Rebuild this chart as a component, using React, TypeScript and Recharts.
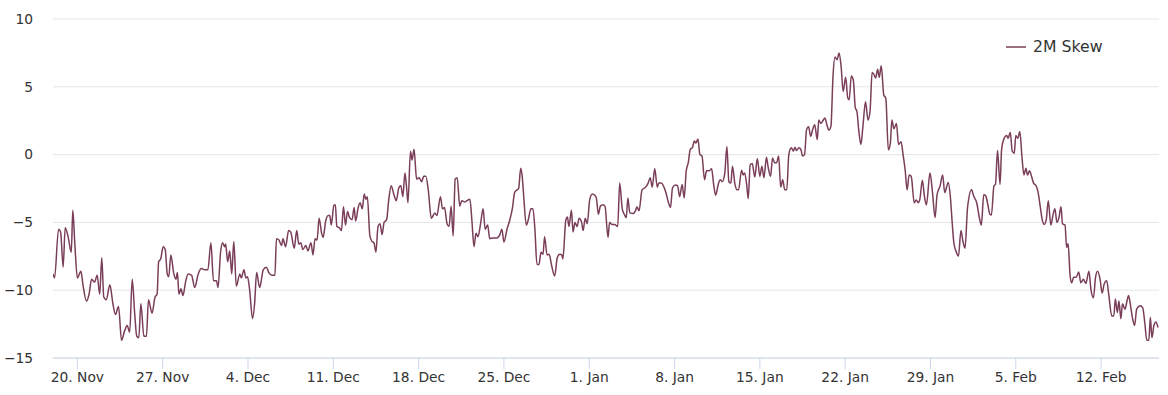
import React from 'react'
import {
  CartesianGrid,
  Line,
  LineChart,
  XAxis,
  YAxis
} from 'recharts'

// hours since 18 Nov 2023 00:00 UTC, 2M skew value
const START = Date.UTC(2023, 10, 18)
const END_HOURS = 2178

const novPoints: [number, number][] = [
  [0, -8.8], [3, -9.1], [11, -5.5], [15, -5.7], [20, -8.3], [24, -5.4], [30, -6.1], [36, -7.2], [39, -4.1], [43, -6.6],
  [48, -9.1], [55, -8.6], [59, -9.6], [66, -10.8], [71, -10.3], [76, -9.2], [82, -9.4], [87, -8.9], [92, -10.3], [96, -7.6],
  [100, -10.5], [105, -10.7], [112, -9.6], [118, -11.0], [123, -11.8], [129, -11.2], [135, -13.7], [141, -13.0], [146, -12.6],
  [151, -13.1], [156, -9.2], [161, -11.8], [165, -13.4], [169, -13.5], [173, -11.0], [179, -13.4], [184, -13.4], [188, -10.7],
  [195, -11.7], [201, -10.5], [205, -10.3], [208, -7.9], [212, -7.7], [217, -6.8], [221, -7.0], [225, -8.8], [228, -9.0],
  [232, -7.4], [238, -8.8], [242, -9.2], [245, -8.7], [248, -10.3], [252, -9.9], [256, -10.4], [261, -9.4], [266, -8.8],
  [273, -8.9], [279, -9.8], [286, -8.8], [292, -8.4], [299, -8.5], [305, -8.5], [311, -6.5], [316, -9.3], [322, -9.3],
  [325, -9.8]
]

const decPoints: [number, number][] = [
  [330, -7.2], [334, -6.5], [338, -6.8], [340, -6.6], [344, -7.9], [348, -7.1], [352, -8.8], [356, -6.4], [361, -9.7],
  [368, -8.8], [371, -9.1], [376, -8.5], [380, -9.1], [383, -9.0], [387, -9.9], [393, -12.1], [397, -11.0], [401, -8.7],
  [407, -9.8], [414, -8.5], [420, -8.3], [425, -8.7], [431, -8.9], [437, -8.9], [440, -6.2], [445, -6.3], [450, -6.7],
  [453, -6.2], [458, -6.8], [464, -5.6], [468, -5.7], [475, -6.9], [480, -5.6], [484, -6.6], [488, -6.5], [492, -7.0],
  [498, -6.7], [502, -7.1], [508, -6.5], [512, -7.4], [516, -6.2], [520, -6.3], [524, -4.7], [529, -5.8], [532, -6.1],
  [537, -4.9], [542, -4.5], [545, -4.5], [548, -5.2], [553, -3.75], [556, -3.7], [559, -5.3], [564, -5.4], [568, -5.6],
  [572, -3.85], [576, -5.2], [580, -4.2], [584, -4.65], [589, -4.8], [593, -3.9], [596, -4.9], [601, -3.9], [605, -3.55],
  [609, -4.0], [613, -2.9], [616, -3.3], [619, -3.1], [624, -6.0], [628, -6.4], [632, -6.5], [636, -7.2], [640, -5.3],
  [644, -5.1], [648, -5.9], [652, -5.0], [657, -4.8], [661, -3.4], [666, -2.3], [671, -2.9], [676, -3.4], [681, -2.45],
  [685, -2.3], [689, -3.1], [693, -1.35], [696, -2.3], [699, -3.55], [704, 0.25], [707, -0.4], [711, 0.4], [716, -1.8],
  [721, -1.7], [726, -2.0], [730, -1.6], [734, -1.6], [739, -2.6], [745, -4.7], [752, -4.3], [756, -4.5], [763, -3.1],
  [767, -4.0], [771, -3.9], [776, -5.1], [780, -5.3], [784, -3.8], [788, -6.0], [792, -1.8], [796, -1.7], [801, -3.8],
  [805, -3.4], [811, -3.5], [815, -3.4], [821, -3.3], [825, -4.9], [829, -6.8], [833, -5.8], [837, -6.05], [842, -5.1],
  [847, -4.0], [851, -5.5], [856, -5.2], [860, -6.2], [867, -6.15], [874, -6.15], [880, -5.9], [884, -5.5], [888, -6.45],
  [894, -5.5], [899, -4.9], [905, -3.9], [909, -2.8], [914, -2.6], [917, -2.5], [921, -1.0], [924, -1.6], [927, -3.1],
  [932, -5.2], [936, -4.8], [941, -4.0], [945, -4.0], [949, -5.5], [953, -8.1], [957, -8.1], [961, -7.2], [965, -7.35],
  [968, -6.05], [973, -7.4], [977, -7.35], [982, -8.2], [988, -8.95], [993, -7.6], [998, -7.35], [1002, -7.4], [1004, -7.7],
  [1010, -4.8], [1013, -4.6], [1016, -5.3], [1021, -4.1], [1024, -5.7], [1028, -5.0], [1032, -5.3], [1036, -4.7],
  [1041, -5.0], [1044, -5.6], [1048, -4.7], [1052, -5.1]
]

const janPoints: [number, number][] = [
  [1057, -3.3], [1062, -2.9], [1067, -3.0], [1070, -3.2], [1074, -4.4], [1078, -3.8], [1083, -3.7], [1087, -3.8],
  [1093, -6.1], [1096, -5.0], [1101, -5.15], [1106, -5.15], [1112, -5.3], [1116, -2.1], [1121, -4.0], [1125, -4.4],
  [1129, -4.65], [1132, -3.2], [1136, -4.3], [1142, -4.35], [1147, -4.15], [1150, -3.85], [1154, -4.15], [1160, -2.6],
  [1167, -2.4], [1172, -2.1], [1176, -1.7], [1180, -2.4], [1185, -1.05], [1190, -2.4], [1193, -2.1], [1198, -2.1],
  [1202, -2.3], [1207, -2.8], [1211, -3.4], [1216, -3.9], [1220, -2.45], [1226, -2.25], [1230, -2.3], [1234, -3.1],
  [1239, -2.2], [1243, -3.2], [1247, -1.2], [1251, -0.6], [1255, 0.4], [1259, 0.5], [1263, 1.0], [1266, 0.85],
  [1270, 1.15], [1274, 0.0], [1278, -0.1], [1283, -1.85], [1287, -1.2], [1292, -1.2], [1297, -1.05], [1301, -2.2],
  [1305, -3.0], [1310, -2.2], [1314, -1.85], [1318, -2.0], [1323, -1.35], [1327, 0.6], [1331, -2.0], [1335, -2.1],
  [1338, -0.85], [1343, -2.2], [1347, -2.6], [1350, -2.6], [1356, -1.15], [1359, -1.5], [1362, -1.35], [1366, -2.2],
  [1369, -3.25], [1373, -0.75], [1377, -0.65], [1382, -1.65], [1387, -0.3], [1392, -1.6], [1396, -0.85], [1400, -1.7],
  [1405, -0.2], [1408, -0.85], [1413, -1.6], [1417, -0.25], [1421, -0.6], [1425, -0.6], [1429, -0.1], [1433, -2.4],
  [1437, -1.85], [1441, -2.6], [1445, -2.6], [1449, 0.0], [1454, 0.5], [1458, 0.25], [1461, 0.55], [1464, 0.3],
  [1469, 0.5], [1473, 0.35], [1476, -0.1], [1480, 0.0], [1484, 1.85], [1488, 2.05], [1492, 1.35], [1496, 1.85],
  [1500, 2.2], [1505, 1.1], [1508, 2.55], [1512, 2.3], [1517, 2.55], [1520, 2.7], [1524, 2.2], [1528, 1.8], [1532, 2.1],
  [1536, 5.75], [1540, 7.2], [1544, 7.0], [1548, 7.5], [1552, 6.5], [1556, 4.65], [1561, 5.7], [1565, 4.2], [1568, 4.05],
  [1572, 5.8], [1576, 5.5], [1580, 3.45], [1583, 3.2], [1587, 1.7], [1591, 0.75], [1595, 2.1], [1600, 3.9], [1605, 2.55],
  [1609, 3.2], [1613, 6.05], [1616, 5.95], [1620, 5.65], [1624, 6.3], [1627, 5.7], [1631, 6.55], [1636, 4.4],
  [1640, 4.15], [1645, 0.35], [1649, 0.85], [1652, 2.55], [1656, 1.9], [1661, 2.3], [1665, 0.75], [1670, 0.95],
  [1674, 0.0], [1678, -1.1], [1682, -2.6], [1686, -1.5], [1690, -1.6], [1696, -3.55], [1700, -3.35], [1704, -3.55],
  [1707, -3.3], [1712, -1.9], [1716, -3.05], [1720, -3.7], [1727, -1.35], [1732, -2.8], [1737, -4.65], [1741, -2.95],
  [1747, -2.3], [1752, -1.5], [1756, -2.8], [1763, -2.05], [1767, -3.05], [1771, -5.15], [1774, -6.5], [1779, -7.2],
  [1783, -7.5], [1788, -5.6], [1792, -6.4], [1796, -6.9]
]

const febPoints: [number, number][] = [
  [1801, -3.9], [1809, -2.6], [1813, -3.05], [1819, -3.55], [1824, -4.6], [1828, -5.2], [1833, -2.95], [1837, -3.05],
  [1841, -3.7], [1845, -4.4], [1848, -4.45], [1853, -2.3], [1856, -2.2], [1860, 0.3], [1865, -2.2], [1868, 0.35],
  [1873, 1.2], [1878, 1.4], [1881, 1.2], [1885, 1.65], [1889, 0.25], [1893, 0.1], [1896, 1.4], [1900, 1.2], [1904, 1.7],
  [1908, -0.1], [1912, -1.5], [1916, -1.0], [1919, -1.5], [1923, -1.2], [1927, -1.6], [1931, -2.1], [1936, -2.3],
  [1940, -2.8], [1944, -3.8], [1948, -4.8], [1952, -5.15], [1956, -4.8], [1960, -3.4], [1965, -5.2], [1969, -4.5],
  [1973, -4.0], [1977, -5.0], [1981, -4.65], [1985, -3.85], [1988, -5.1], [1993, -5.2], [1996, -6.85], [1999, -6.55],
  [2003, -8.95], [2006, -9.45], [2010, -9.05], [2015, -9.05], [2020, -8.65], [2024, -9.45], [2029, -9.2], [2034, -9.5],
  [2040, -8.6], [2044, -9.95], [2049, -10.55], [2053, -9.05], [2057, -8.6], [2062, -9.2], [2066, -10.2], [2070, -9.55],
  [2075, -9.3], [2079, -10.3], [2085, -11.9], [2089, -11.9], [2092, -10.65], [2096, -11.65], [2099, -10.8], [2103, -12.1],
  [2106, -11.0], [2111, -11.4], [2115, -10.8], [2118, -10.4], [2122, -11.15], [2126, -12.1], [2130, -12.6], [2134, -11.4],
  [2141, -11.15], [2146, -11.3], [2150, -12.4], [2154, -13.7], [2158, -13.7], [2161, -12.0], [2164, -13.5], [2168, -12.6],
  [2172, -12.35], [2176, -12.75]
]

const tickLabels = [
  '20. Nov', '27. Nov', '4. Dec', '11. Dec', '18. Dec', '25. Dec', '1. Jan',
  '8. Jan', '15. Jan', '22. Jan', '29. Jan', '5. Feb', '12. Feb'
]
const tickHours = tickLabels.map((_, i) => 48 + i * 168)
const yTicks = [-15, -10, -5, 0, 5, 10]
const seriesName = '2M Skew'

const HOUR = 3600 * 1000
const data = [...novPoints, ...decPoints, ...janPoints, ...febPoints].map(([h, v]) => ({
  t: START + h * HOUR,
  skew: v
}))
const xTicks = tickHours.map(h => START + h * HOUR)

const FONT = '"DejaVu Sans", Verdana, sans-serif'
const LINE_COLOR = '#7a3e58'

const App = () => {
  return (
    <div style={{ position: 'absolute', left: 0, top: 0, width: 1168, height: 395 }}>
      <LineChart
        width={1168}
        height={395}
        data={data}
        margin={{ top: 19, right: 9, left: 0, bottom: 7 }}
      >
        <CartesianGrid vertical={false} stroke="#e6e6e6" />
        <XAxis
          dataKey="t"
          type="number"
          scale="linear"
          domain={[START, START + END_HOURS * HOUR]}
          ticks={xTicks}
          tickFormatter={value => tickLabels[xTicks.indexOf(value)] ?? ''}
          interval={0}
          height={30}
          stroke="#ccd6eb"
          tickSize={11}
          tickMargin={3}
          tick={{ fill: '#333333', fontSize: 13.8, fontFamily: FONT }}
          allowDataOverflow
        />
        <YAxis
          type="number"
          domain={[-15, 10]}
          ticks={yTicks}
          width={53}
          axisLine={false}
          tickLine={false}
          tickSize={0}
          tickMargin={20}
          tickFormatter={value => `${value}`.replace('-', '\u2212')}
          tick={{ fill: '#333333', fontSize: 13.8, fontFamily: FONT }}
        />
        <Line
          type="monotone"
          dataKey="skew"
          name={seriesName}
          stroke={LINE_COLOR}
          strokeWidth={1.5}
          dot={false}
          activeDot={false}
          isAnimationActive={false}
        />
      </LineChart>
      {/* legend box, top right */}
      <div
        style={{
          position: 'absolute',
          left: 1006,
          top: 37,
          display: 'flex',
          alignItems: 'center',
          fontFamily: FONT,
          fontSize: 15.7,
          color: '#333333',
          whiteSpace: 'nowrap'
        }}
      >
        <svg width={27} height={10}>
          <line x1={0} y1={5} x2={20} y2={5} stroke={LINE_COLOR} strokeWidth={1.5} />
        </svg>
        <span>{seriesName}</span>
      </div>
    </div>
  )
}

export default App
